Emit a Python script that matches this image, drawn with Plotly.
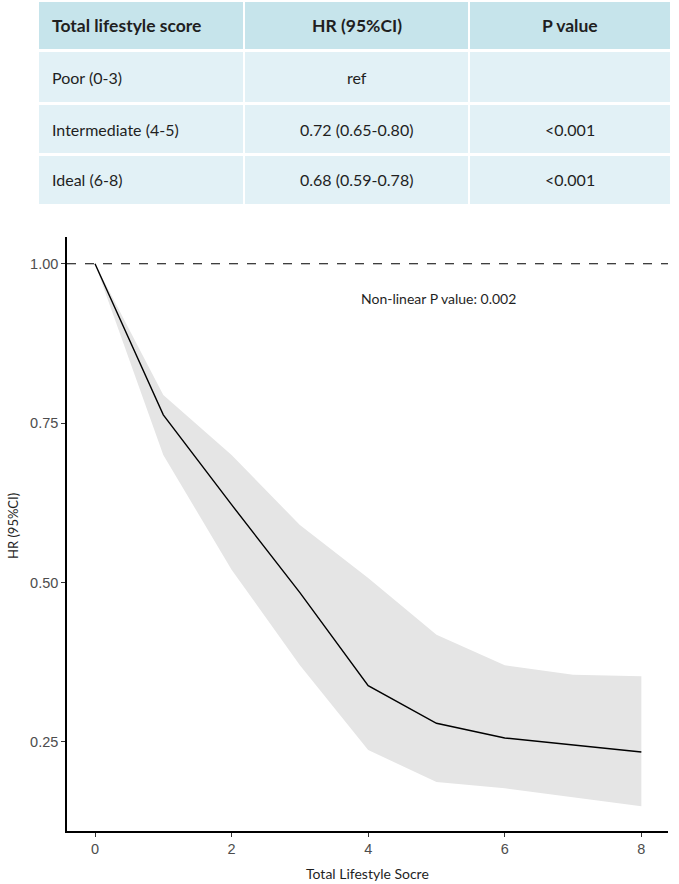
import plotly.graph_objects as go

# ---- table data ----
table_header = ["Total lifestyle score", "HR (95%CI)", "P value"]
table_groups = ["Poor (0-3)", "Intermediate (4-5)", "Ideal (6-8)"]
table_hr = ["ref", "0.72 (0.65-0.80)", "0.68 (0.59-0.78)"]
table_p = ["", "<0.001", "<0.001"]

# ---- curve data ----
score = [0, 1, 2, 3, 4, 5, 6, 7, 8]
hr = [1.0, 0.763, 0.622, 0.484, 0.338, 0.279, 0.256, 0.245, 0.234]
hr_upper = [1.0, 0.794, 0.700, 0.590, 0.507, 0.418, 0.370, 0.355, 0.353]
hr_lower = [1.0, 0.700, 0.520, 0.370, 0.237, 0.187, 0.177, 0.163, 0.149]

W, H = 679, 884
TFONT = "Lato, 'Open Sans', sans-serif"
TCOL = "#1f1f1f"


def py(y):
    return 1 - y / H


def px(x):
    return x / W


fig = go.Figure()

# confidence ribbon
fig.add_trace(go.Scatter(
    x=score, y=hr_upper, mode="lines", line=dict(width=0, color="#e5e5e5"),
    showlegend=False, hoverinfo="skip",
))
fig.add_trace(go.Scatter(
    x=score, y=hr_lower, mode="lines", line=dict(width=0, color="#e5e5e5"),
    fill="tonexty", fillcolor="#e5e5e5", showlegend=False, hoverinfo="skip",
))
# HR line
fig.add_trace(go.Scatter(
    x=score, y=hr, mode="lines", line=dict(color="black", width=1.4),
    showlegend=False,
))

shapes = [dict(type="line", xref="x domain", yref="y", x0=0, x1=1, y0=1, y1=1,
               line=dict(color="black", width=1.2, dash="dash"))]
annotations = []

# ---- table drawn with shapes + annotations ----
col_edges = [39, 244, 469, 670]
row_edges = [(2, 49), (52, 102), (105, 153), (156, 204)]
rows = [table_header] + [list(r) for r in zip(table_groups, table_hr, table_p)]
for ri, (y0, y1) in enumerate(row_edges):
    fill = "#c6e4eb" if ri == 0 else "#e2f1f6"
    for ci in range(3):
        x0 = col_edges[ci] + (1 if ci > 0 else 0)
        x1 = col_edges[ci + 1] - (1 if ci < 2 else 0)
        shapes.append(dict(type="rect", xref="paper", yref="paper",
                           x0=px(x0), x1=px(x1), y0=py(y1), y1=py(y0),
                           fillcolor=fill, line=dict(width=0), layer="below"))
        txt = rows[ri][ci]
        if not txt:
            continue
        if ri == 0:
            txt = "<b>%s</b>" % txt
        ym = (y0 + y1) / 2
        if ci == 0:
            xa, xanch = px(50), "left"
        else:
            xa, xanch = px((col_edges[ci] + col_edges[ci + 1]) / 2), "center"
        annotations.append(dict(text=txt, x=xa, y=py(ym), xanchor=xanch, yanchor="middle",
                                xref="paper", yref="paper", showarrow=False,
                                font=dict(family=TFONT, size=17.5 if ri == 0 else 16, color=TCOL)))

annotations += [
    dict(text="Non-linear P value: 0.002", x=px(518), y=py(298),
         xref="paper", yref="paper", showarrow=False, yanchor="middle",
         font=dict(family=TFONT, size=14, color=TCOL)),
    dict(text="Total Lifestyle Socre", x=px(367), y=py(873),
         xref="paper", yref="paper", showarrow=False, yanchor="middle",
         font=dict(family=TFONT, size=14, color=TCOL)),
    dict(text="HR (95%CI)", x=px(13), y=py(526), textangle=-90,
         xref="paper", yref="paper", showarrow=False, xanchor="center",
         font=dict(family=TFONT, size=13, color=TCOL)),
]

tickfont = dict(family="Liberation Sans, Arial, sans-serif", size=14.5, color="#4d4d4d")

fig.update_layout(
    width=W, height=H,
    margin=dict(l=0, r=0, t=0, b=0),
    paper_bgcolor="white", plot_bgcolor="white",
    shapes=shapes, annotations=annotations,
    xaxis=dict(
        domain=[px(67), px(668)], range=[-0.41, 8.39],
        tickvals=[0, 2, 4, 6, 8], showgrid=False, zeroline=False,
        showline=True, linecolor="black", linewidth=1.5,
        ticks="outside", ticklen=4, tickcolor="#333333", tickwidth=1,
        tickfont=tickfont, automargin=False,
    ),
    yaxis=dict(
        domain=[py(831), py(237)], range=[0.11, 1.042],
        tickvals=[0.25, 0.5, 0.75, 1.0], ticktext=["0.25", "0.50", "0.75", "1.00"],
        showgrid=False, zeroline=False,
        showline=True, linecolor="black", linewidth=1.5,
        ticks="outside", ticklen=4, tickcolor="#333333", tickwidth=1,
        tickfont=tickfont, automargin=False,
    ),
)

fig.write_html("out.html", config={"displayModeBar": False},
               post_script="document.body.style.margin='0';document.body.style.padding='0';")
